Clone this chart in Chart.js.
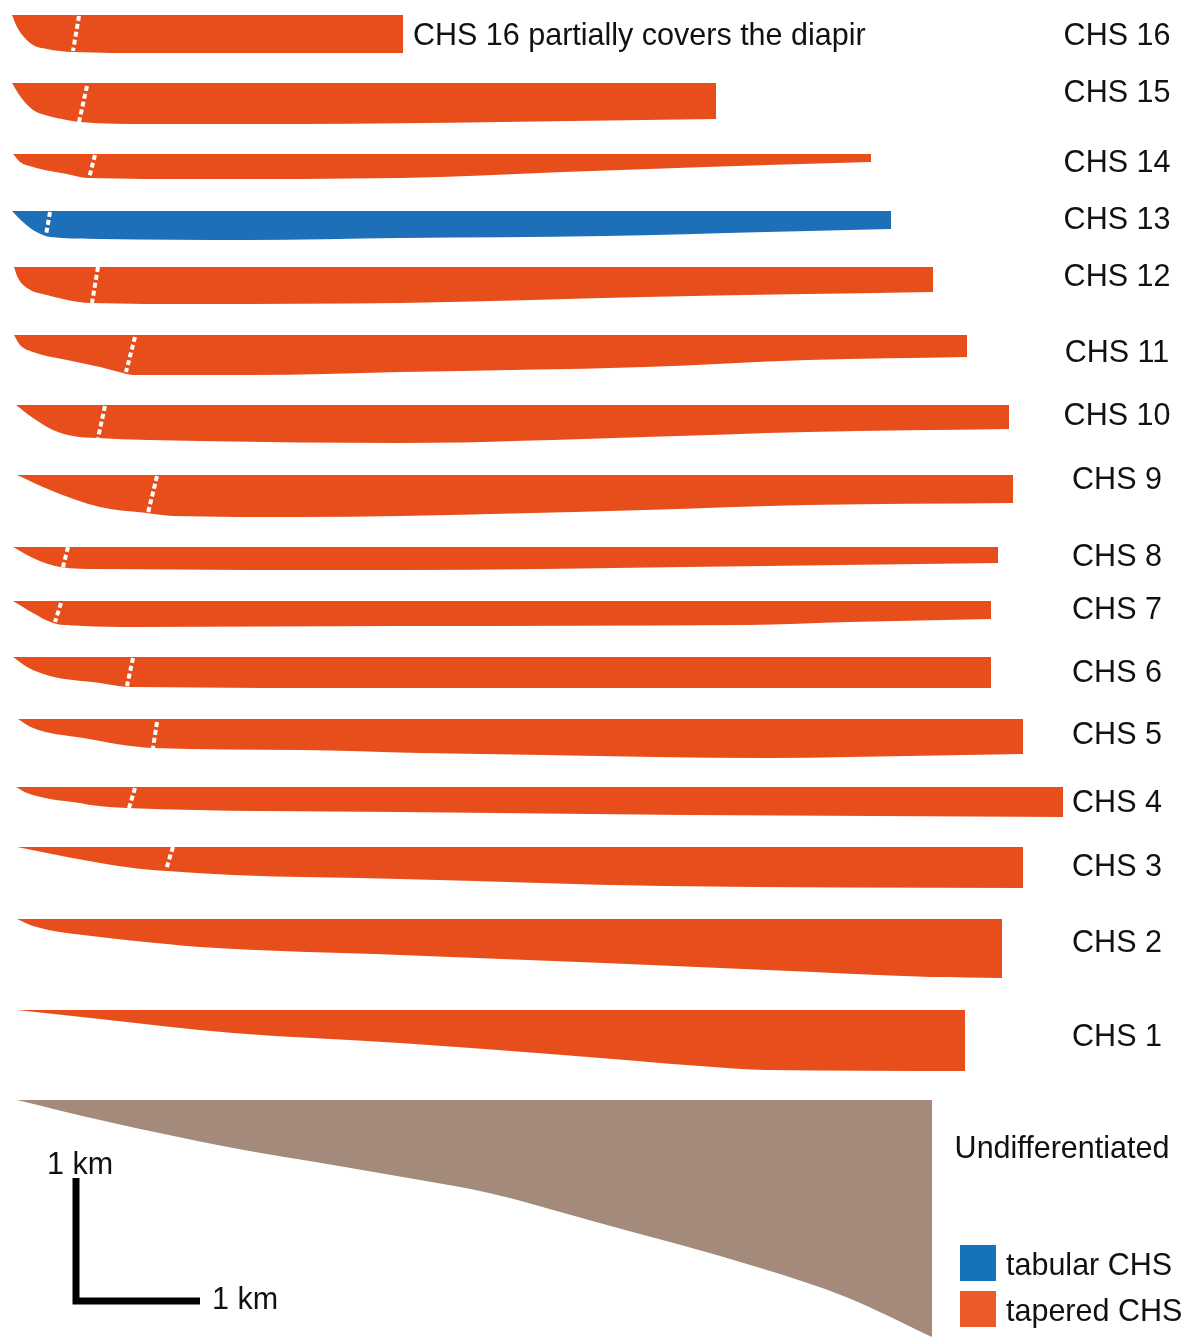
<!DOCTYPE html>
<html>
<head>
<meta charset="utf-8">
<title>CHS units</title>
<script src="https://cdn.jsdelivr.net/npm/chart.js@4/dist/chart.umd.min.js"></script>
<style>
  html, body { margin: 0; padding: 0; background: #fff; overflow: hidden; }
  #wrap { width: 1185px; height: 1338px; position: relative; }
</style>
</head>
<body>
<div id="wrap"><canvas id="chs"></canvas></div>
<script>
// units, youngest on top (diagram units: 1 km ~ 124 units)
const unitNames = ['CHS 16', 'CHS 15', 'CHS 14', 'CHS 13', 'CHS 12', 'CHS 11', 'CHS 10', 'CHS 9',
    'CHS 8', 'CHS 7', 'CHS 6', 'CHS 5', 'CHS 4', 'CHS 3', 'CHS 2', 'CHS 1', 'Undifferentiated'];
const unitKinds = ['tapered', 'tapered', 'tapered', 'tabular', 'tapered', 'tapered', 'tapered', 'tapered',
    'tapered', 'tapered', 'tapered', 'tapered', 'tapered', 'tapered', 'tapered', 'tapered', 'undifferentiated'];
const unitTops = [15, 83, 154, 211, 267, 335, 405, 475, 547, 601, 657, 719, 787, 847, 919, 1010, 1100];

// base profile of every unit, [distance, depth]
const unitBases = [
    [[12, 15], [17, 27], [24, 37], [33, 45], [47, 49], [73, 52], [150, 53], [300, 53], [403, 53]],
    [[12, 83], [20, 96], [33, 110], [45, 115], [62, 119], [80, 122], [150, 124], [300, 124], [500, 122], [716, 119]],
    [[13, 154], [20, 162], [33, 167], [50, 171], [67, 174], [88, 178], [200, 179], [400, 178], [563, 172], [706, 167], [767, 165], [871, 162]],
    [[12, 211], [23, 222], [33, 230], [43, 235], [50, 237], [100, 239], [250, 240], [400, 238], [604, 236], [767, 232], [891, 229]],
    [[14, 267], [18, 278], [27, 288], [47, 295], [90, 303], [200, 304], [400, 303], [645, 297], [933, 292]],
    [[14, 335], [20, 345], [33, 352], [67, 360], [100, 367], [123, 373], [133, 375], [250, 375], [400, 372], [645, 367], [808, 360], [967, 357]],
    [[16, 405], [33, 418], [53, 430], [73, 436], [97, 438], [200, 441], [400, 443], [645, 437], [808, 432], [1009, 429]],
    [[17, 475], [50, 490], [100, 507], [147, 513], [173, 516], [300, 517], [400, 516], [645, 510], [808, 505], [1013, 503]],
    [[13, 547], [33, 558], [60, 567], [100, 569], [400, 570], [686, 567], [998, 563]],
    [[13, 601], [33, 613], [53, 623], [83, 626], [133, 627], [400, 626], [747, 625], [849, 622], [991, 619]],
    [[13, 657], [27, 667], [50, 676], [100, 683], [130, 687], [400, 688], [991, 688]],
    [[18, 719], [33, 728], [83, 738], [153, 748], [300, 750], [420, 753], [543, 755], [767, 758], [849, 757], [1023, 754]],
    [[16, 787], [27, 793], [50, 799], [80, 803], [90, 805], [127, 808], [400, 812], [686, 815], [1063, 817]],
    [[17, 847], [67, 857], [133, 868], [167, 871], [233, 875], [400, 879], [665, 886], [1023, 888]],
    [[17, 919], [33, 926], [100, 937], [167, 944], [200, 947], [400, 955], [604, 963], [767, 970], [931, 977], [1002, 978]],
    [[17, 1010], [100, 1019], [233, 1033], [400, 1043], [563, 1055], [700, 1066], [767, 1070], [965, 1071]],
    [[17, 1100], [100, 1120], [233, 1148], [333, 1165], [420, 1180], [489, 1193], [596, 1222], [757, 1267], [846, 1297], [932, 1337]]
];

// dotted internal boundary (top point, base point); CHS 2, CHS 1 have none
const boundaryTops = [[79, 16], [87, 86], [95, 155], [50, 212], [98, 267], [135, 337], [105, 406], [157, 476],
    [68, 547], [61, 603], [133, 658], [157, 722], [135, 788], [173, 847]];
const boundaryBases = [[73, 51], [79, 122], [89, 178], [46, 235], [92, 303], [126, 372], [98, 438], [148, 513],
    [63, 567], [55, 622], [127, 686], [153, 748], [129, 808], [166, 870]];

// 1 km scale bar
const scaleBar = [[76, 1178], [76, 1301], [200, 1301]];

const kindColors = { tapered: '#E84E1B', tabular: '#1D6FB8', undifferentiated: '#A38A7A' };
const legendColors = { tabular: '#1473BA', tapered: '#EC5A2A' };

const datasets = [];
unitNames.forEach((name, i) => {
    const base = unitBases[i];
    datasets.push({
        label: name + ' top',
        data: base.map(p => ({ x: p[0], y: unitTops[i] })),
        borderWidth: 0,
        pointRadius: 0,
        fill: false,
        order: 3
    });
    datasets.push({
        label: name,
        data: base.map(p => ({ x: p[0], y: p[1] })),
        borderWidth: 0,
        borderColor: kindColors[unitKinds[i]],
        backgroundColor: kindColors[unitKinds[i]],
        pointRadius: 0,
        cubicInterpolationMode: 'monotone',
        fill: '-1',
        order: 3
    });
});
boundaryTops.forEach((t, i) => {
    datasets.push({
        label: 'boundary ' + unitNames[i],
        data: [{ x: t[0], y: t[1] }, { x: boundaryBases[i][0], y: boundaryBases[i][1] }],
        borderColor: '#ffffff',
        borderWidth: 4,
        borderDash: [5, 3],
        pointRadius: 0,
        fill: false,
        order: 1
    });
});
datasets.push({
    label: 'scale',
    data: scaleBar.map(p => ({ x: p[0], y: p[1] })),
    borderColor: '#000000',
    borderWidth: 7,
    borderJoinStyle: 'miter',
    borderCapStyle: 'butt',
    pointRadius: 0,
    fill: false,
    order: 1
});

const textPlugin = {
    id: 'chsText',
    afterDraw(chart) {
        const { ctx, scales: { x, y } } = chart;
        ctx.save();
        ctx.fillStyle = '#111';
        ctx.font = '30.5px "Liberation Sans", Arial, sans-serif';
        ctx.textBaseline = 'middle';

        const labelY = [37, 94, 164, 221, 278, 354, 417, 481, 558, 611, 674, 736, 804, 868, 944, 1038, 1150];
        unitNames.forEach((name, i) => {
            ctx.textAlign = 'center';
            const cx = name === 'Undifferentiated' ? 1062 : 1117;
            ctx.fillText(name, x.getPixelForValue(cx), y.getPixelForValue(labelY[i]));
        });

        ctx.textAlign = 'left';
        ctx.fillText('CHS 16 partially covers the diapir', x.getPixelForValue(413), y.getPixelForValue(37));
        ctx.fillText('1 km', x.getPixelForValue(47), y.getPixelForValue(1166));
        ctx.fillText('1 km', x.getPixelForValue(212), y.getPixelForValue(1301));

        // legend
        const items = [['tabular CHS', legendColors.tabular, 1245], ['tapered CHS', legendColors.tapered, 1291]];
        items.forEach(([txt, col, top]) => {
            const x0 = x.getPixelForValue(960), x1 = x.getPixelForValue(996);
            const y0 = y.getPixelForValue(top), y1 = y.getPixelForValue(top + 36);
            ctx.fillStyle = col;
            ctx.fillRect(x0, y0, x1 - x0, y1 - y0);
            ctx.fillStyle = '#111';
            ctx.fillText(txt, x.getPixelForValue(1006), y.getPixelForValue(top + 22));
        });
        ctx.restore();
    }
};

new Chart(document.getElementById('chs').getContext('2d'), {
    type: 'line',
    data: { datasets },
    options: {
        responsive: true,
        maintainAspectRatio: false,
        animation: false,
        layout: { padding: 0 },
        scales: {
            x: { type: 'linear', min: 0, max: 1185, display: false },
            y: { type: 'linear', min: 0, max: 1338, reverse: true, display: false }
        },
        plugins: {
            legend: { display: false },
            tooltip: { enabled: false }
        }
    },
    plugins: [textPlugin]
});
</script>
</body>
</html>
